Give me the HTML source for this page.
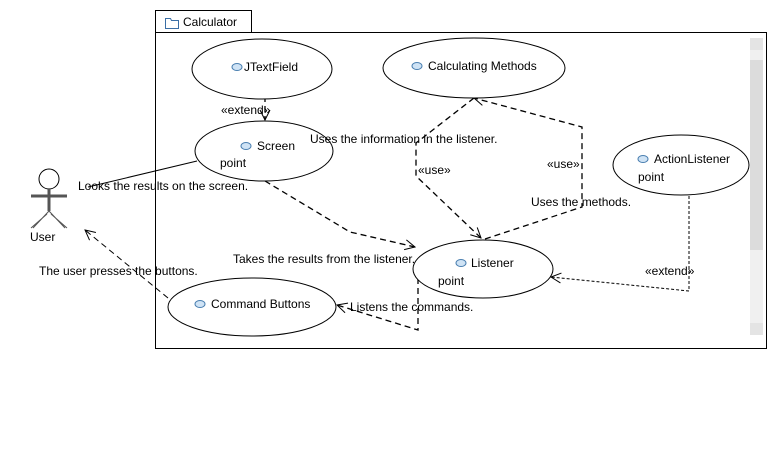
<!DOCTYPE html>
<html><head><meta charset="utf-8"><style>
body{margin:0;background:#fff;}
svg text{font-family:"Liberation Sans",sans-serif;font-size:12px;fill:#000;}
</style></head><body>
<svg width="777" height="458" viewBox="0 0 777 458" xmlns="http://www.w3.org/2000/svg">
<defs>
<marker id="a" markerWidth="12" markerHeight="12" refX="11" refY="6" orient="auto" markerUnits="userSpaceOnUse">
<path d="M1,1 L11,6 L1,11" fill="none" stroke="#000" stroke-width="1"/></marker>
</defs>
<!-- frame -->
<rect x="155.5" y="10.5" width="96" height="22" fill="#fff" stroke="#000"/>
<rect x="155.5" y="32.5" width="611" height="316" fill="#fff" stroke="#000"/>
<path d="M165.5,18.5 h5 l1,2 h7 v8 h-13 z" fill="#fff" stroke="#3a6ea5"/>
<text x="183" y="26">Calculator</text>
<!-- scrollbar -->
<rect x="750" y="38" width="13" height="297" fill="#f0f0f0"/>
<rect x="750" y="38" width="13" height="12" fill="#e4e4e4"/>
<rect x="750" y="60" width="13" height="190" fill="#dcdcdc"/>
<rect x="750" y="323" width="13" height="12" fill="#e4e4e4"/>
<g fill="none" stroke="#000" stroke-width="1.3" stroke-dasharray="6,4">
<path d="M265,96 L265,120" marker-end="url(#a)"/>
<path d="M265,181 L350,232 L415,247" marker-end="url(#a)"/>
<path d="M474,98 L416,143 L416,176 L481,238" marker-end="url(#a)"/>
<path d="M485,239 L582,207 L582,127 L474,98" marker-end="url(#a)"/>
<path d="M689,196 L689,291 L551,277" marker-end="url(#a)" stroke-width="1" stroke-dasharray="3,2"/>
<path d="M418,278 L418,330 L337,305" marker-end="url(#a)"/>
<path d="M168,298 L85,230" marker-end="url(#a)" stroke-width="1"/>
</g>
<line x1="197" y1="161" x2="88" y2="187" stroke="#000"/>
<!-- ellipses -->
<g fill="#fff" stroke="#000">
<ellipse cx="262" cy="69" rx="70" ry="30"/>
<ellipse cx="474" cy="68" rx="91" ry="30"/>
<ellipse cx="264" cy="151" rx="69" ry="30"/>
<ellipse cx="681" cy="165" rx="68" ry="30"/>
<ellipse cx="483" cy="269" rx="70" ry="29"/>
<ellipse cx="252" cy="307" rx="84" ry="29"/>
</g>
<g fill="#cfe3f5" stroke="#4a7fb0">
<ellipse cx="237" cy="67" rx="5" ry="3.5"/>
<ellipse cx="417" cy="66" rx="5" ry="3.5"/>
<ellipse cx="246" cy="146" rx="5" ry="3.5"/>
<ellipse cx="643" cy="159" rx="5" ry="3.5"/>
<ellipse cx="461" cy="263" rx="5" ry="3.5"/>
<ellipse cx="200" cy="304" rx="5" ry="3.5"/>
</g>
<text x="244" y="71">JTextField</text>
<text x="428" y="70">Calculating Methods</text>
<text x="257" y="150">Screen</text>
<text x="220" y="167">point</text>
<text x="654" y="163">ActionListener</text>
<text x="638" y="181">point</text>
<text x="471" y="267">Listener</text>
<text x="438" y="285">point</text>
<text x="211" y="308">Command Buttons</text>
<text x="221" y="114">«extend»</text>
<text x="310" y="143">Uses the information in the listener.</text>
<text x="418" y="174">«use»</text>
<text x="547" y="168">«use»</text>
<text x="531" y="206">Uses the methods.</text>
<text x="645" y="275">«extend»</text>
<text x="233" y="263">Takes the results from the listener.</text>
<text x="350" y="311">Listens the commands.</text>
<text x="78" y="190">Looks the results on the screen.</text>
<text x="39" y="275">The user presses the buttons.</text>
<!-- actor -->
<g stroke="#555" fill="none">
<circle cx="49" cy="179" r="10" stroke="#000" fill="#fff"/>
<line x1="49" y1="189" x2="49" y2="211" stroke-width="3"/>
<line x1="31" y1="196" x2="67" y2="196" stroke-width="3"/>
<path d="M49,211 L33,228 M49,211 L65,228 M47,214 L31,228 M51,214 L67,228" stroke-width="1"/>
</g>
<text x="30" y="241">User</text>
</svg>
</body></html>
